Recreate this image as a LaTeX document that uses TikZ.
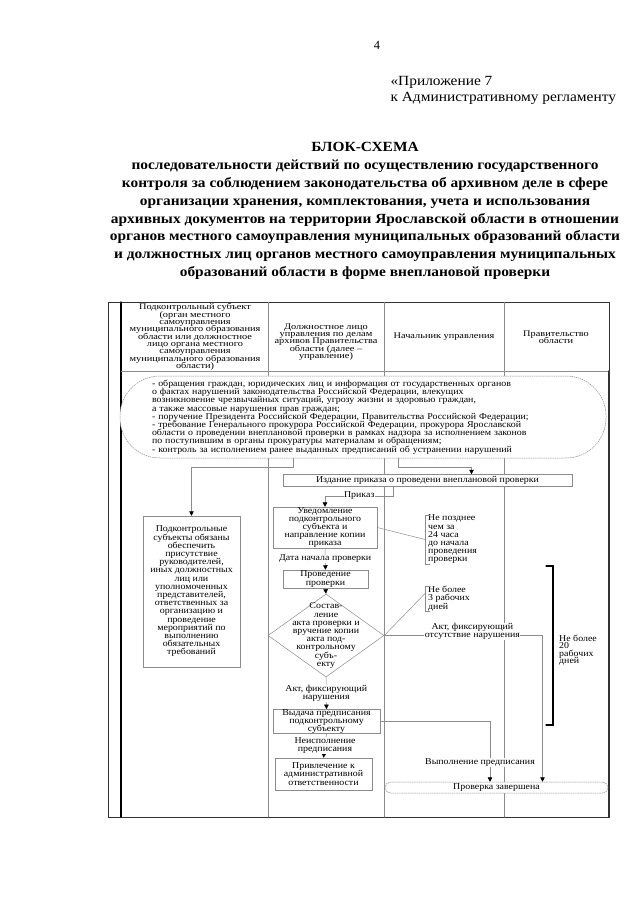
\documentclass[tikz,border=0pt]{standalone}
\usepackage{fontspec}
\setmainfont{Liberation Serif}
\newfontfamily\schemefont{Liberation Serif}[FakeStretch=1.1]
\newfontfamily\headfont{Liberation Serif}[FakeStretch=1.2]
\usetikzlibrary{arrows.meta,shapes.geometric,calc}
\definecolor{cline}{HTML}{8c8c8c}
\definecolor{cframe}{HTML}{333333}
\newcommand\tightlines{\lineskiplimit=-10pt\lineskip=0pt}
\newcommand\bodyfs{\schemefont\fontsize{9}{8.2}\selectfont\tightlines}
\newcommand\headfs{\headfont\fontsize{8.6}{7.3}\selectfont\tightlines}

\begin{document}
\begin{tikzpicture}[x=1pt, y=-1pt, line cap=round,
    box/.style={draw=cline, line width=0.5pt, fill=white, align=center, font=\bodyfs, inner sep=0pt},
    lbl/.style={fill=white, align=center, font=\bodyfs, inner sep=0.5pt},
    conn/.style={draw=cline, line width=0.5pt},
    arr/.style={conn, -{Triangle[width=4.5pt, length=4.5pt, color=black]}},
    note/.style={align=left, font=\bodyfs, inner sep=0pt, anchor=west},
    oval/.style={draw=cline, line width=0.5pt, dash pattern=on 1.2pt off 1pt, fill=white}]
  \useasboundingbox (0,0) rectangle (640,905);
  % page heading
  \node[font=\fontsize{12.5}{14}\selectfont] (pagenum) at (377,45) {4};
  \node[align=left, anchor=west, font=\schemefont\fontsize{14}{16}\selectfont] (appendix) at (387,90)
    {«Приложение 7\\к Административному регламенту};
  \node[align=center, font=\schemefont\bfseries\fontsize{14}{17.9}\selectfont] (title) at (365,211)
    {БЛОК-СХЕМА\\
     последовательности действий по осуществлению государственного\\
     контроля за соблюдением законодательства об архивном деле в сфере\\
     организации хранения, комплектования, учета и использования\\
     архивных документов на территории Ярославской области в отношении\\
     органов местного самоуправления муниципальных образований области\\
     и должностных лиц органов местного самоуправления муниципальных\\
     образований области в форме внеплановой проверки};
  % frame and lanes
  \draw[cframe, line width=0.5pt] (108,302) rectangle (609,817);
  \draw[black, line width=1.3pt] (121,302) -- (121,817);
  \draw[cline, line width=0.5pt] (121,371) -- (609,371);
  \foreach \x in {268,384,504}
    \draw[cline, line width=0.5pt] (\x,302) -- (\x,817);
  \draw[cframe, line width=1.2pt] (608.5,371) -- (608.5,817);
  % lane headings
  \node[font=\headfs, align=center] (hsubj) at (195,337)
    {Подконтрольный субъект\\(орган местного\\самоуправления\\муниципального образования\\
     области или должностное\\лицо органа местного\\самоуправления\\
     муниципального образования\\области)};
  \node[font=\headfs, align=center] (hofficer) at (326,342)
    {Должностное лицо\\управления по делам\\архивов Правительства\\области (далее –\\управление)};
  \node[font=\headfs, align=center] (hhead) at (444,337) {Начальник управления};
  \node[font=\headfs, align=center] (hgov) at (556,337) {Правительство\\области};
  % grounds for the check
  \node[oval, rounded corners=40pt, minimum width=486pt, minimum height=82pt,
        text width=422pt, align=left, font=\bodyfs] (sources) at (363,417)
    {- обращения граждан, юридических лиц и информация от государственных органов\\
     о фактах нарушений законодательства Российской Федерации, влекущих\\
     возникновение чрезвычайных ситуаций, угрозу жизни и здоровью граждан,\\
     а также массовые нарушения прав граждан;\\
     - поручение Президента Российской Федерации, Правительства Российской Федерации;\\
     - требование Генерального прокурора Российской Федерации, прокурора Ярославской\\
     области о проведении внеплановой проверки в рамках надзора за исполнением законов\\
     по поступившим в органы прокуратуры материалам и обращениям;\\
     - контроль за исполнением ранее выданных предписаний об устранении нарушений};
  % steps
  \node[box, minimum width=289pt, minimum height=12pt] (order) at (427.5,480.5)
    {Издание приказа о проведени внеплановой проверки};
  \node[box, minimum width=97pt, minimum height=151pt] (duty) at (191.5,591.5)
    {Подконтрольные\\субъекты обязаны\\обеспечить\\присутствие\\руководителей,\\
     иных должностных\\лиц или\\уполномоченных\\представителей,\\ответственных за\\
     организацию и\\проведение\\мероприятий по\\выполнению\\обязательных\\требований};
  \node[box, minimum width=104pt, minimum height=39pt] (notice) at (325,527.5)
    {Уведомление\\подконтрольного\\субъекта и\\направление копии\\приказа};
  \node[box, minimum width=85pt, minimum height=18pt] (conduct) at (325.5,579)
    {Проведение\\проверки};
  \node[draw=cline, line width=0.5pt, diamond, fill=white, minimum width=116pt,
        minimum height=83pt, inner sep=0pt,
        label={[font=\bodyfs, align=center]center:{Состав-\\ление\\акта проверки и\\
          вручение копии\\акта под-\\контрольному\\субъ-\\екту}}] (act) at (326,635.5) {};
  \node[box, minimum width=107pt, minimum height=23pt] (issue) at (326.5,721.5)
    {Выдача предписания\\подконтрольному\\субъекту};
  \node[box, minimum width=97pt, minimum height=32pt] (liability) at (323.5,774)
    {Привлечение к\\административной\\ответственности};
  \node[oval, rounded corners=5.5pt, minimum width=223pt, minimum height=11pt,
        font=\bodyfs, inner sep=0pt] (done) at (496.5,787.5) {Проверка завершена};
  % time limits
  \node[note] (note24) at (425,539.5)
    {\hspace{3pt}Не позднее\\\hspace{3pt}чем за\\\hspace{3pt}24 часа\\\hspace{3pt}до начала\\
     \hspace{3pt}проведения\\\hspace{3pt}проверки};
  \node[note] (note3) at (425,598.5)
    {\hspace{3pt}Не более\\\hspace{3pt}3 рабочих\\\hspace{3pt}дней};
  \node[note, font=\schemefont\fontsize{9}{7.5}\selectfont\tightlines] (note20) at (559,650)
    {Не более\\20\\рабочих\\дней};
  \draw[conn] ($(note24.north west)+(5,0)$) -- (note24.north west) -- (note24.south west) -- ++(5,0);
  \draw[conn] ($(note3.north west)+(5,0)$) -- (note3.north west) -- (note3.south west) -- ++(5,0);
  \draw[black, line width=1.2pt] (546,566) -- (553,566) -- (553,725) -- (546,725);
  \draw[conn] (notice.east) -- (note24.west);
  \draw[conn] (act.east) -- ($(note3.west)+(0,-5)$);
  % connectors
  \draw[arr] ($(sources.south)+(-70,0)$) -- ++(0,9) -| (duty.north);
  \draw[arr] ($(sources.south)+(35,0)$) -- ++(0,9) -| ($(order.north)+(44,0)$);
  \draw[arr] ($(order.south)+(-34,0)$) |- node[lbl, pos=.75] {Приказ}
    ($(notice.north)+(0,-11)$) -- (notice.north);
  \draw[arr] (notice.south) -- node[lbl] {Дата начала проверки} (conduct.north);
  \draw[arr] (conduct.south) -- (act.north);
  \draw[arr] (act.south) -- node[lbl] {Акт, фиксирующий\\нарушения} (issue.north);
  \draw[arr] (issue.south) -- node[lbl] {Неисполнение\\предписания} (liability.north);
  \draw[arr] (act.east) -| node[lbl, pos=.25, xshift=9pt, yshift=4pt]
    {Акт, фиксирующий\\отсутствие нарушения} ($(done.north)+(46,0)$);
  \draw[arr] (issue.east) -| node[lbl, pos=.84, xshift=-10pt] {Выполнение предписания}
    ($(done.north)+(-6.5,0)$);
\end{tikzpicture}
\end{document}
